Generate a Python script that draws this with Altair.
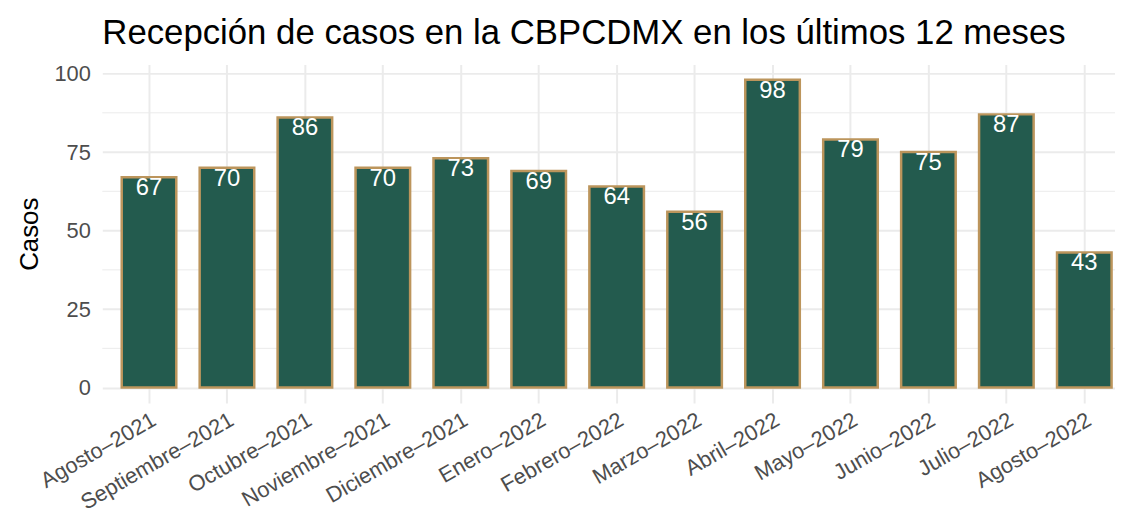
import altair as alt
import pandas as pd

meses = ["Agosto–2021", "Septiembre–2021", "Octubre–2021", "Noviembre–2021",
         "Diciembre–2021", "Enero–2022", "Febrero–2022", "Marzo–2022",
         "Abril–2022", "Mayo–2022", "Junio–2022", "Julio–2022", "Agosto–2022"]
casos = [67, 70, 86, 70, 73, 69, 64, 56, 98, 79, 75, 87, 43]
y_ticks = [0, 25, 50, 75, 100]
y_minor = [12.5, 37.5, 62.5, 87.5]

df = pd.DataFrame({"mes": meses, "casos": casos})
df_minor = pd.DataFrame({"v": y_minor})

FONT = "Liberation Sans"
GRID = "#EBEBEB"

x_enc = alt.X("mes:N", sort=meses, title=None,
              scale=alt.Scale(paddingInner=0.3, paddingOuter=0.1465, align=0.85),
              axis=alt.Axis(labelAngle=-30, labelAlign="right", labelBaseline="top",
                            labelFontSize=22, labelColor="#4D4D4D", labelFont=FONT,
                            labelPadding=6, ticks=False, domain=False,
                            grid=True, gridColor=GRID, gridWidth=2, bandPosition=0.5,
                            labelOverlap=False))
y_scale = alt.Scale(domain=[-4.9, 102.9], nice=False, zero=False)

minor = alt.Chart(df_minor).mark_rule(color=GRID, strokeWidth=1).encode(
    y=alt.Y("v:Q", scale=y_scale)
)

bars = alt.Chart(df).mark_bar(color="#235B4E", stroke="#BC955C", strokeWidth=2.5).encode(
    x=x_enc,
    y=alt.Y("casos:Q", scale=y_scale, title="Casos",
            axis=alt.Axis(values=y_ticks, grid=True, gridColor=GRID, gridWidth=2,
                          ticks=False, domain=False, labelFontSize=22,
                          labelColor="#4D4D4D", labelFont=FONT, labelPadding=12,
                          titleFontSize=26, titleFont=FONT, titleColor="black",
                          titleFontWeight="normal", titlePadding=12)),
    y2=alt.datum(0),
)

text = alt.Chart(df).mark_text(color="white", fontSize=24, font=FONT,
                               baseline="top", dy=-1).encode(
    x=alt.X("mes:N", sort=meses),
    y=alt.Y("casos:Q", scale=y_scale),
    text=alt.Text("casos:Q"),
)

chart = alt.layer(minor, bars, text).properties(
    width=1020, height=341,
    title=alt.TitleParams("Recepción de casos en la CBPCDMX en los últimos 12 meses",
                          anchor="start", frame="group", fontSize=35, font=FONT,
                          fontWeight="normal", color="black", offset=12),
    autosize=alt.AutoSizeParams(type="none"),
    padding={"left": 95, "top": 55, "right": 0, "bottom": 117},
).configure_view(stroke=None)

chart.save("out.html", embed_options={"renderer": "svg", "actions": False})
